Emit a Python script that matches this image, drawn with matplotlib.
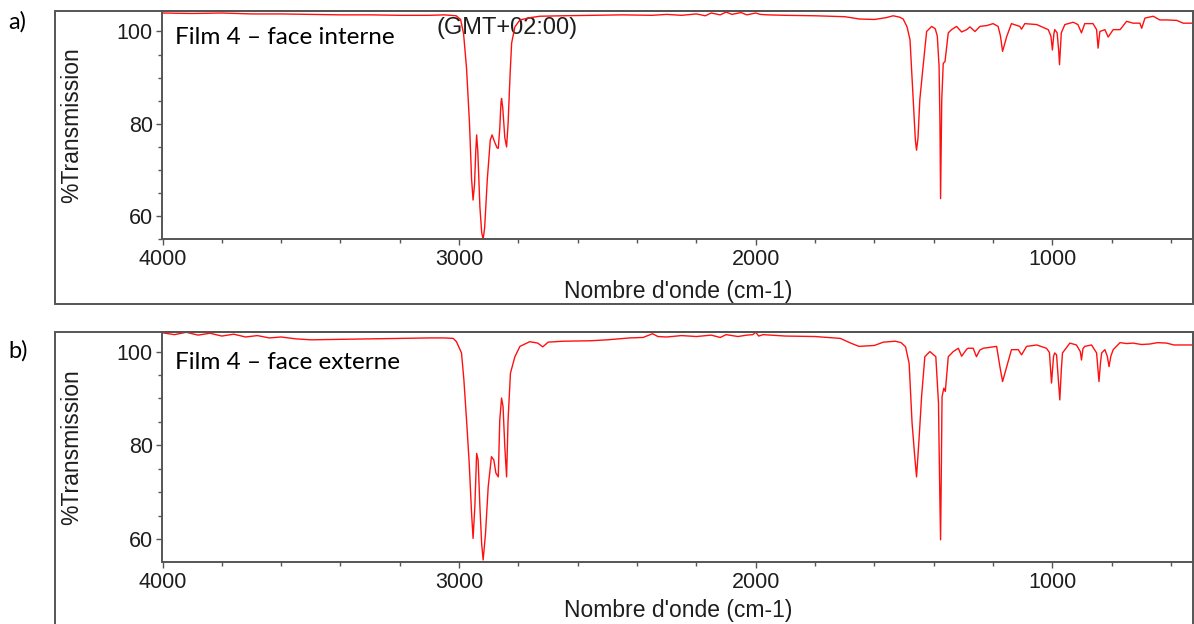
import matplotlib
matplotlib.use('Agg')
from matplotlib import pyplot as plt
from matplotlib.patches import Rectangle
from matplotlib.ticker import MultipleLocator

# spectre a) film 4 - face interne (nombre d'onde cm-1 / %T)
wn_a = [4000, 3900, 3800, 3700, 3600, 3500, 3400, 3300, 3200, 3100,
        3050, 3010, 2995, 2985, 2975, 2965, 2958, 2953, 2948, 2944,
        2941, 2937, 2930, 2924, 2919, 2914, 2905, 2895, 2889, 2880,
        2872, 2868, 2863, 2859, 2857, 2853, 2846, 2840, 2835, 2828,
        2823, 2812, 2795, 2760, 2728, 2650, 2550, 2450, 2350, 2300,
        2250, 2200, 2170, 2150, 2120, 2100, 2080, 2050, 2030, 2000,
        1985, 1960, 1900, 1800, 1700, 1650, 1600, 1560, 1537, 1515,
        1503, 1490, 1480, 1469, 1462, 1458, 1453, 1447, 1436, 1424,
        1407, 1395, 1388, 1382, 1379, 1377, 1375, 1373, 1368, 1362,
        1351, 1340, 1323, 1306, 1289, 1278, 1261, 1244, 1220, 1200,
        1183, 1175, 1168, 1160, 1154, 1138, 1110, 1104, 1093, 1053,
        1014, 1005, 1000, 995, 992, 984, 979, 976, 972, 970,
        958, 930, 914, 902, 891, 863, 851, 846, 840, 823,
        812, 795, 772, 763, 750, 728, 705, 699, 688, 660,
        638, 615, 581, 559, 526]
t_a = [104.0, 103.9, 104.0, 103.8, 103.8, 103.7, 103.6, 103.6, 103.5, 103.5,
       103.6, 103.4, 102.6, 99.5, 92.0, 80.0, 68.0, 63.5, 67.0, 74.0,
       77.6, 74.0, 62.0, 56.5, 55.0, 57.5, 68.0, 76.5, 77.6, 76.0,
       74.8, 74.7, 79.0, 84.5, 85.5, 83.5, 77.0, 75.0, 80.0, 91.0,
       97.5, 101.0, 102.5, 103.0, 103.3, 103.4, 103.5, 103.6, 103.5, 103.7,
       103.5, 103.8, 103.4, 104.0, 103.6, 104.2, 103.7, 104.1, 103.6, 104.0,
       103.7, 103.6, 103.5, 103.4, 103.2, 102.7, 102.6, 103.0, 103.4, 103.1,
       102.7, 101.0, 98.2, 85.2, 76.5, 74.3, 77.0, 85.2, 92.4, 100.0,
       101.1, 100.6, 99.0, 92.4, 80.0, 63.8, 74.0, 85.2, 93.1, 93.5,
       99.7, 100.4, 101.1, 99.9, 100.4, 101.0, 100.0, 101.1, 101.3, 101.7,
       101.1, 99.0, 95.7, 97.5, 98.9, 101.7, 101.1, 100.5, 101.7, 101.5,
       100.4, 99.0, 96.0, 99.5, 100.4, 99.7, 96.0, 92.8, 97.5, 99.7,
       101.5, 102.0, 101.5, 99.7, 101.7, 101.7, 100.4, 96.4, 100.0, 100.4,
       98.8, 100.4, 100.4, 101.1, 102.2, 101.8, 101.8, 100.7, 102.9, 103.3,
       102.5, 102.5, 102.4, 101.8, 101.8]

# spectre b) film 4 - face externe
wn_b = [4000, 3960, 3920, 3880, 3840, 3800, 3760, 3720, 3680, 3640,
        3600, 3550, 3500, 3400, 3300, 3200, 3100, 3050, 3020, 3009,
        2992, 2984, 2975, 2966, 2958, 2953, 2947, 2941, 2936, 2930,
        2924, 2919, 2911, 2902, 2891, 2883, 2876, 2868, 2863, 2857,
        2852, 2846, 2840, 2835, 2827, 2812, 2795, 2762, 2735, 2718,
        2700, 2650, 2555, 2500, 2425, 2380, 2348, 2330, 2300, 2250,
        2200, 2150, 2120, 2100, 2060, 2030, 2010, 2000, 1990, 1975,
        1900, 1800, 1715, 1680, 1652, 1600, 1570, 1548, 1530, 1510,
        1495, 1483, 1473, 1464, 1458, 1449, 1441, 1430, 1413, 1393,
        1384, 1380, 1377, 1375, 1372, 1366, 1361, 1351, 1334, 1317,
        1306, 1289, 1284, 1267, 1256, 1245, 1233, 1188, 1177, 1168,
        1154, 1138, 1115, 1104, 1087, 1053, 1020, 1010, 1003, 996,
        992, 986, 980, 975, 970, 966, 941, 919, 906, 902,
        897, 891, 868, 851, 846, 843, 838, 834, 823, 815,
        809, 803, 795, 772, 750, 728, 700, 672, 645, 615,
        590, 559, 526]
t_b = [104.0, 103.6, 104.1, 103.5, 103.9, 103.3, 103.7, 103.1, 103.4, 102.9,
       103.1, 102.7, 102.5, 102.6, 102.7, 102.8, 102.9, 102.9, 102.8, 102.1,
       99.7, 94.0, 85.4, 76.2, 65.5, 60.2, 67.0, 78.3, 76.9, 67.0,
       59.0, 55.6, 61.3, 71.2, 77.6, 76.9, 74.1, 73.3, 85.4, 90.1,
       88.3, 79.7, 73.3, 85.4, 95.4, 98.9, 101.1, 102.1, 101.8, 101.0,
       102.0, 102.2, 102.3, 102.5, 102.9, 103.0, 103.8, 103.2, 103.1, 103.4,
       103.2, 103.5, 103.0, 103.6, 103.2, 103.5, 103.6, 104.1, 103.3, 103.6,
       103.3, 103.2, 102.8, 101.8, 101.1, 101.3, 102.0, 102.1, 102.2, 101.9,
       101.0, 97.5, 84.7, 77.6, 73.3, 81.9, 90.4, 98.9, 100.0, 98.9,
       89.0, 71.2, 59.9, 71.2, 90.4, 92.2, 91.5, 98.9, 100.0, 100.7,
       99.0, 100.5, 100.7, 100.7, 98.9, 100.3, 100.7, 101.1, 96.8, 93.6,
       96.8, 100.4, 100.4, 99.3, 101.1, 101.4, 100.7, 99.8, 93.3, 99.0,
       99.7, 99.3, 94.0, 89.7, 96.0, 99.7, 101.8, 101.4, 100.0, 98.2,
       100.6, 101.1, 101.4, 99.7, 96.0, 93.6, 97.5, 99.7, 100.4, 99.0,
       96.8, 99.0, 100.4, 101.9, 101.7, 101.8, 101.5, 101.6, 101.9, 101.8,
       101.4, 101.4, 101.4]

xticks = [4000, 3000, 2000, 1000]
yticks = [60, 80, 100]
labels = ["Film 4 \u2013 face interne", "Film 4 \u2013 face externe"]
headers = ["(GMT+02:00)", ""]
letters = ["a)", "b)"]

W, H = 1194, 624
fig = plt.figure(figsize=(W / 100, H / 100), dpi=100)

# positions en pixels : haut / bas des axes, ylim, haut / bas du cache blanc,
# xlabel, hauteur de la lettre du panneau
panels = [(10.7, 239.3, (55, 104.5), 18, 56, -0.178, 22),
          (332.3, 562.3, (55.1, 104.1), 343, 382, -0.16, 351)]
series = [(wn_a, t_a), (wn_b, t_b)]
left, right = 162.5, 1193
txt = '#1e1e1e'
grey = '#555555'

for i, (top, bot, ylim, btop, bbot, xl_y, let_y) in enumerate(panels):
    # cadre exterieur
    fbot = bot + 65 if i == 0 else 700
    fig.add_artist(Rectangle((55 / W, 1 - fbot / H), (1193 - 55) / W, (fbot - top) / H,
                             transform=fig.transFigure, fill=False,
                             edgecolor=grey, lw=1.4))
    ax = fig.add_axes([left / W, 1 - bot / H, (right - left) / W, (bot - top) / H])
    wn, t = series[i]
    ax.plot(wn, t, color='#ff1010', lw=1.0, zorder=2)
    ax.set_xlim(4000, 526)
    ax.set_ylim(*ylim)
    ax.set_xticks(xticks)
    ax.set_yticks(yticks)
    ax.xaxis.set_minor_locator(MultipleLocator(200))
    ax.yaxis.set_minor_locator(MultipleLocator(5))
    ax.tick_params(which='both', direction='out', color=grey, labelcolor=txt,
                   labelsize=15.5, width=1.0)
    ax.tick_params(which='major', length=4, pad=3)
    ax.tick_params(which='minor', length=3)
    for lab in ax.get_xticklabels() + ax.get_yticklabels():
        lab.set_fontfamily('Liberation Sans')
    for s in ax.spines.values():
        s.set_color(grey)
        s.set_linewidth(1.4)
    ax.set_xlabel("Nombre d'onde (cm-1)", fontsize=16.5, family='Liberation Sans', color=txt)
    ax.set_ylabel("%Transmission", fontsize=16.5, family='Liberation Sans', color=txt)
    ax.xaxis.set_label_coords(0.5, xl_y)
    ax.yaxis.set_label_coords(-0.077, 0.5)

    h = bot - top
    # entete du logiciel (le reste est cache par l'etiquette)
    if headers[i]:
        ax.text((437 - left) / (right - left), 1 - 6 / h, headers[i], transform=ax.transAxes,
                ha='left', va='top', fontsize=17, family='Liberation Sans',
                color=txt, zorder=1)
    ax.add_patch(Rectangle((0.001, 1 - (bbot - top) / h), (432 - left) / (right - left),
                           (bbot - btop) / h, transform=ax.transAxes,
                           facecolor='white', edgecolor='none', zorder=3))
    ax.text(12.5 / (right - left), 1 - ((btop + bbot) / 2 - top) / h, labels[i],
            transform=ax.transAxes, ha='left', va='center', fontsize=17.5,
            family='Lato', color='black', zorder=4)
    fig.text(8 / W, 1 - let_y / H, letters[i],
             ha='left', va='center', fontsize=17, family='Lato', color='black')

fig.savefig('out.png', dpi=100)
